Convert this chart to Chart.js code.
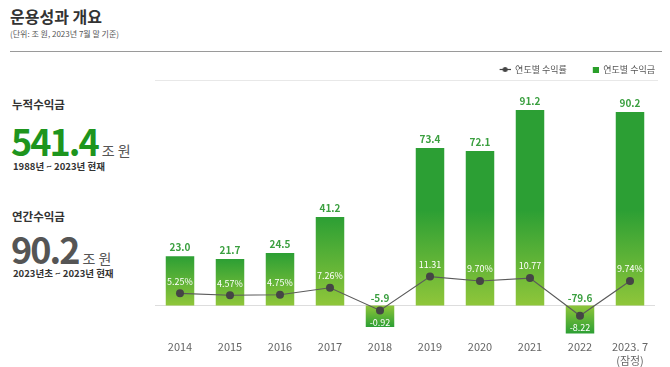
<!DOCTYPE html>
<html>
<head>
<meta charset="utf-8">
<script src="https://cdn.jsdelivr.net/npm/chart.js@4.4.1/dist/chart.umd.min.js"></script>
<style>
  body { margin: 0; width: 670px; height: 367px; background: #fff; position: relative; overflow: hidden;
         font-family: "Noto Sans CJK KR", "Noto Sans", sans-serif; }
  .abs { position: absolute; white-space: nowrap; }
  #title { left: 10px; top: 4px; font-size: 16px; font-weight: 700; color: #333; }
  #unit { left: 10px; top: 28px; font-size: 8px; color: #555; }
  #rule { left: 10px; top: 51px; width: 652px; height: 1px; background: #9a9a9a; }
  #legendRule { left: 155px; top: 80px; width: 503px; height: 1px; background: #e8e8e8; }
  .cap { font-size: 11.5px; font-weight: 700; color: #333; }
  .big { font-size: 36px; font-weight: 700; letter-spacing: -2px; line-height: 1; }
  .big span { font-size: 14px; font-weight: 400; color: #555; letter-spacing: 0; margin-left: 4px; }
  .sub { font-size: 9.5px; font-weight: 700; color: #333; }
  #chartBox { position: absolute; left: 150px; top: 55px; width: 515px; height: 315px; }
</style>
</head>
<body>
<div class="abs" id="title">운용성과 개요</div>
<div class="abs" id="unit">(단위: 조 원, 2023년 7월 말 기준)</div>
<div class="abs" id="rule"></div>

<div class="abs cap" style="left:12px; top:96px;">누적수익금</div>
<div class="abs big" style="left:11px; top:122px; color:#1e951e;">541.4<span>조 원</span></div>
<div class="abs sub" style="left:13px; top:159px;">1988년 ~ 2023년 현재</div>

<div class="abs cap" style="left:12px; top:208px;">연간수익금</div>
<div class="abs big" style="left:11px; top:230px; color:#555;">90.2<span>조 원</span></div>
<div class="abs sub" style="left:13px; top:266px;">2023년초 ~ 2023년 현재</div>

<div class="abs" id="legendRule"></div>
<div id="chartBox"><canvas id="perfChart"></canvas></div>

<script>
// 연도별 데이터
let years = ["2014", "2015", "2016", "2017", "2018", "2019", "2020", "2021", "2022", ["2023. 7", "(잠정)"]];
let earnings = [23.0, 21.7, 24.5, 41.2, -5.9, 73.4, 72.1, 91.2, -79.6, 90.2]; // 연도별 수익금 (조 원)
let returns = [5.25, 4.57, 4.75, 7.26, -0.92, 11.31, 9.70, 10.77, -8.22, 9.74]; // 연도별 수익률 (%)
let returnLabels = ["5.25%", "4.57%", "4.75%", "7.26%", "-0.92", "11.31", "9.70%", "10.77", "-8.22", "9.74%"];

const FONT = '"Noto Sans CJK KR", "Noto Sans", sans-serif';
const darkGreen = "#2c9f34";
const lightGreen = "#8fc63a";

// 음수 구간을 압축해서 보여주는 축 (원본 그래픽처럼)
class WarpScale extends Chart.LinearScale {
  warp(v) {
    const o = this.options;
    return v >= 0 ? v : -o.negA * Math.pow(-v, o.negP);
  }
  getPixelForValue(value) {
    if (value === null || value === undefined || isNaN(value)) return NaN;
    const o = this.options;
    return this.getPixelForDecimal((this.warp(value) + o.negDepth) / (o.posMax + o.negDepth));
  }
  getValueForPixel(pixel) {
    const o = this.options;
    const w = this.getDecimalForPixel(pixel) * (o.posMax + o.negDepth) - o.negDepth;
    return w >= 0 ? w : -Math.pow(-w / o.negA, 1 / o.negP);
  }
}
WarpScale.id = "warp";
Chart.register(WarpScale);

// 범례 아이콘
function lineIcon() {
  const c = document.createElement("canvas");
  c.width = 22; c.height = 7;
  const g = c.getContext("2d");
  g.strokeStyle = "#444"; g.lineWidth = 1.2;
  g.beginPath(); g.moveTo(11, 3.5); g.lineTo(22, 3.5); g.stroke();
  g.fillStyle = "#444";
  g.beginPath(); g.arc(16.5, 3.5, 2.5, 0, Math.PI * 2); g.fill();
  return c;
}
function squareIcon() {
  const c = document.createElement("canvas");
  c.width = 22; c.height = 6;
  const g = c.getContext("2d");
  g.fillStyle = "#2a9f2a";
  g.fillRect(16, 0, 6, 6);
  return c;
}
const icons = [lineIcon(), squareIcon()];

function barGradient(ctx) {
  const chart = ctx.chart;
  if (!chart.chartArea || ctx.type !== "data") return darkGreen;
  const y = chart.scales.y;
  const v = earnings[ctx.dataIndex];
  const p0 = y.getPixelForValue(0);
  const p1 = y.getPixelForValue(v);
  let g;
  if (v >= 0) {
    const top = Math.max(p1, p0 - 95);
    g = chart.ctx.createLinearGradient(0, top, 0, p0);
  } else {
    g = chart.ctx.createLinearGradient(0, p1, 0, p0);
  }
  g.addColorStop(0, darkGreen);
  g.addColorStop(1, lightGreen);
  return g;
}

// 막대 위 수치와 수익률 라벨
const valueLabels = {
  id: "valueLabels",
  afterDatasetsDraw(chart) {
    const c = chart.ctx;
    const zero = chart.scales.y.getPixelForValue(0);
    const bars = chart.getDatasetMeta(1).data;
    const pts = chart.getDatasetMeta(0).data;
    c.save();
    c.textAlign = "center";
    c.textBaseline = "middle";
    c.font = "bold 10px " + FONT;
    c.fillStyle = "#3a9f3f";
    bars.forEach((b, i) => {
      const v = earnings[i];
      c.fillText(v.toFixed(1), b.x, v >= 0 ? b.y - 9 : zero - 7);
    });
    c.font = "9px " + FONT;
    c.fillStyle = "#ffffff";
    pts.forEach((p, i) => {
      c.fillText(returnLabels[i], p.x, returns[i] >= 0 ? p.y - 12 : p.y + 12);
    });
    c.restore();
  },
  beforeDatasetsDraw(chart) {
    // 0 기준선
    const c = chart.ctx;
    const zero = chart.scales.y.getPixelForValue(0);
    c.save();
    c.strokeStyle = "#dddddd";
    c.lineWidth = 1;
    c.beginPath();
    c.moveTo(chart.chartArea.left, Math.round(zero) + 0.5);
    c.lineTo(chart.chartArea.right, Math.round(zero) + 0.5);
    c.stroke();
    c.restore();
  },
};

const ctx = document.getElementById("perfChart").getContext("2d");
const chart = new Chart(ctx, {
  type: "bar",
  data: {
    labels: years,
    datasets: [
      {
        type: "line",
        label: "연도별 수익률",
        data: returns,
        yAxisID: "y2",
        order: 0,
        borderColor: "#5a5a5a",
        borderWidth: 1.2,
        pointRadius: 4,
        pointBackgroundColor: "#454545",
        pointBorderWidth: 0,
        tension: 0,
        fill: false,
      },
      {
        label: "연도별 수익금",
        data: earnings,
        yAxisID: "y",
        order: 1,
        backgroundColor: barGradient,
        barPercentage: 0.57,
        categoryPercentage: 1,
      },
    ],
  },
  options: {
    responsive: true,
    maintainAspectRatio: false,
    animation: false,
    layout: { padding: { left: 5, right: 0, top: 0, bottom: 0 } },
    scales: {
      x: {
        grid: { display: false, drawTicks: false },
        border: { display: false },
        ticks: { color: "#666", font: { family: FONT, size: 11 }, padding: 3, maxRotation: 0 },
      },
      y: {
        type: "warp",
        display: false,
        min: -100,
        max: 100,
        posMax: 103.3,
        negDepth: 15.0,
        negA: 8.39,
        negP: 0.102,
      },
      y2: {
        type: "warp",
        position: "right",
        display: true,
        grid: { display: false, drawTicks: false },
        border: { display: false },
        ticks: { display: false },
        afterFit(scale) {
          scale.width = 10; // 오른쪽 여백 (범례는 끝까지)
        },
        min: -10,
        max: 15,
        posMax: 80.7,
        negDepth: 10.7,
        negA: 0.95,
        negP: 0.518,
      },
    },
    plugins: {
      tooltip: { enabled: false },
      legend: {
        position: "top",
        align: "end",
        labels: {
          color: "#555",
          font: { family: FONT, size: 9 },
          usePointStyle: true,
          pointStyleWidth: 22,
          padding: 10,
          generateLabels(ch) {
            const items = Chart.defaults.plugins.legend.labels.generateLabels(ch);
            items.forEach((it) => {
              it.pointStyle = icons[it.datasetIndex];
              it.fillStyle = "#2a9f2a";
              it.strokeStyle = "#2a9f2a";
              it.lineWidth = 0;
            });
            return items;
          },
        },
      },
    },
  },
  plugins: [valueLabels],
});
</script>
</body>
</html>
